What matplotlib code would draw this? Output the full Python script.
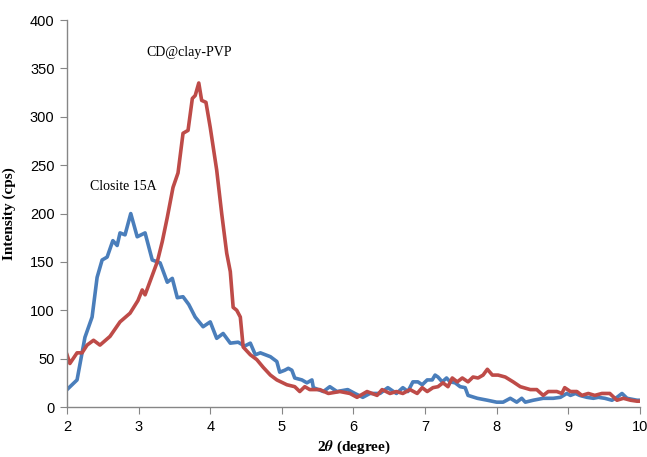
import matplotlib
matplotlib.use("Agg")
import matplotlib.pyplot as plt

# XRD patterns
closite_x = [2.0, 2.14, 2.25, 2.35, 2.42, 2.49, 2.56, 2.64, 2.7, 2.74, 2.81, 2.89, 2.98, 3.09,
             3.19, 3.3, 3.4, 3.47, 3.54, 3.62, 3.7, 3.79, 3.9, 4.0, 4.09, 4.18, 4.28, 4.39,
             4.48, 4.56, 4.63, 4.7, 4.84, 4.93, 4.97, 5.04, 5.09, 5.14, 5.18, 5.28, 5.35, 5.42,
             5.44, 5.58, 5.67, 5.77, 5.92, 6.02, 6.13, 6.23, 6.37, 6.48, 6.6, 6.69, 6.76, 6.83,
             6.9, 6.96, 7.03, 7.1, 7.14, 7.18, 7.24, 7.3, 7.35, 7.42, 7.49, 7.56, 7.6, 7.73,
             7.87, 8.0, 8.09, 8.19, 8.28, 8.35, 8.4, 8.51, 8.65, 8.79, 8.89, 8.98, 9.03, 9.1,
             9.16, 9.26, 9.35, 9.42, 9.51, 9.61, 9.68, 9.75, 9.82, 9.96, 10.0]
closite_y = [18, 28, 72, 93, 134, 152, 155, 172, 167, 180, 178, 200, 176, 180,
             152, 149, 129, 133, 113, 114, 106, 93, 83, 88, 71, 76, 66, 67,
             63, 66, 54, 56, 52, 47, 36, 38, 40, 38, 30, 28, 25, 28,
             20, 16, 21, 16, 18, 14, 10, 14, 14, 20, 14, 20, 16, 26,
             26, 23, 28, 28, 33, 31, 26, 30, 26, 25, 21, 20, 12, 9,
             7, 5, 5, 9, 5, 9, 5, 7, 9, 9, 10, 14, 12, 14,
             12, 10, 9, 10, 9, 7, 10, 14, 9, 7, 7]

pvp_x = [2.0, 2.04, 2.14, 2.21, 2.28, 2.37, 2.46, 2.6, 2.74, 2.88, 2.99, 3.05, 3.09, 3.19,
         3.26, 3.33, 3.4, 3.48, 3.55, 3.62, 3.69, 3.75, 3.79, 3.84, 3.88, 3.94, 4.0, 4.09,
         4.16, 4.23, 4.28, 4.32, 4.37, 4.42, 4.46, 4.56, 4.65, 4.74, 4.84, 4.93, 5.07, 5.18,
         5.25, 5.32, 5.39, 5.53, 5.65, 5.81, 5.95, 6.05, 6.19, 6.33, 6.4, 6.51, 6.6, 6.69,
         6.79, 6.89, 6.96, 7.03, 7.11, 7.18, 7.25, 7.32, 7.38, 7.45, 7.52, 7.6, 7.67, 7.74,
         7.81, 7.87, 7.94, 8.02, 8.12, 8.23, 8.33, 8.47, 8.56, 8.65, 8.72, 8.84, 8.91, 8.95,
         9.03, 9.12, 9.19, 9.28, 9.37, 9.47, 9.58, 9.68, 9.77, 9.87, 9.96, 10.0]
pvp_y = [54, 45, 56, 56, 64, 69, 64, 73, 88, 97, 110, 121, 116, 136,
         150, 171, 196, 227, 242, 283, 286, 319, 322, 335, 317, 315, 289, 245,
         200, 159, 140, 103, 100, 93, 62, 54, 49, 41, 33, 28, 23, 21,
         16, 21, 18, 18, 14, 16, 14, 10, 16, 12, 18, 14, 16, 14,
         18, 14, 20, 16, 20, 21, 25, 21, 30, 26, 30, 26, 31, 30,
         33, 39, 33, 33, 31, 26, 21, 18, 18, 12, 16, 16, 14, 20,
         16, 16, 12, 14, 12, 14, 14, 7, 9, 7, 6, 6]

x_ticks = [2, 3, 4, 5, 6, 7, 8, 9, 10]
y_ticks = [0, 50, 100, 150, 200, 250, 300, 350, 400]

plt.rcParams["mathtext.fontset"] = "stix"
serif = "Liberation Serif"
axis_grey = "#868686"

fig = plt.figure(figsize=(6.47, 4.57), dpi=100)
ax = fig.add_axes([0.1036, 0.1094, 0.8854, 0.8466])

ax.plot(closite_x, closite_y, color="#4A7EBB", lw=2.6, solid_joinstyle="round")
ax.plot(pvp_x, pvp_y, color="#BE4B48", lw=2.6, solid_joinstyle="round")

ax.set_xlim(2, 10)
ax.set_ylim(0, 400)
ax.set_xticks(x_ticks)
ax.set_yticks(y_ticks)

for side in ["top", "right"]:
    ax.spines[side].set_visible(False)
for side in ["left", "bottom"]:
    ax.spines[side].set_color(axis_grey)
    ax.spines[side].set_linewidth(1.0)
ax.tick_params(axis="both", direction="out", length=5, color=axis_grey,
               labelsize=10.5, pad=4)
for lab in ax.get_xticklabels() + ax.get_yticklabels():
    lab.set_family("Liberation Sans")

ax.set_xlabel(r"2$\boldsymbol{\theta}$ (degree)", family=serif, fontweight="bold",
              fontsize=11, labelpad=4)
ax.set_ylabel("Intensity (cps)", family=serif, fontweight="bold", fontsize=11, labelpad=10)

ax.text(3.70, 367, "CD@clay-PVP", family=serif, fontsize=10, ha="center", va="center")
ax.text(2.78, 228, "Closite 15A", family=serif, fontsize=10, ha="center", va="center")

fig.savefig("out.png", dpi=100)
